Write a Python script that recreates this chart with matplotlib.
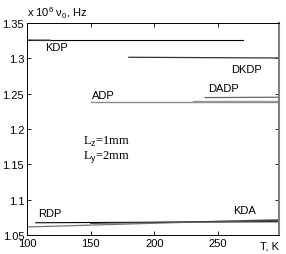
import numpy as np
import matplotlib.pyplot as plt

plt.rcParams['font.family'] = 'Liberation Sans'
plt.rcParams['mathtext.fontset'] = 'custom'
plt.rcParams['mathtext.rm'] = 'Liberation Sans'
plt.rcParams['mathtext.it'] = 'Liberation Sans'

# frequency lines (x 10^6 Hz) vs temperature
kdp_T = [100, 270]
kdp_v = [1.3255, 1.3255]
kdp2_T = [100, 118]
kdp2_v = [1.3265, 1.3262]
dkdp_T = [180, 298]
dkdp_v = [1.3015, 1.3005]
adp_T = [150, 298]
adp_v = [1.2385, 1.2385]
adp2_T = [230, 298]
adp2_v = [1.2392, 1.2392]
dadp_T = [240, 298]
dadp_v = [1.2445, 1.2450]
rdp_T = [107, 298]
rdp_v = [1.0675, 1.0690]
kda_T = [100, 298]
kda_v = [1.0615, 1.0720]
kda2_T = [150, 298]
kda2_v = [1.0665, 1.0710]

labels = ['KDP', 'DKDP', 'ADP', 'DADP', 'RDP', 'KDA']
lab_x = [123, 272, 160, 254, 118, 271]
lab_y = [1.316, 1.285, 1.2485, 1.258, 1.081, 1.0855]

fig = plt.figure(figsize=(2.86, 2.55), dpi=100)
ax = fig.add_axes([0.094, 0.074, 0.882, 0.832])

ax.plot(kdp_T, kdp_v, color='black', lw=0.8)
ax.plot(kdp2_T, kdp2_v, color='0.55', lw=0.9)
ax.plot(dkdp_T, dkdp_v, color='0.2', lw=0.9)
ax.plot(adp_T, adp_v, color='0.55', lw=1.0)
ax.plot(adp2_T, adp2_v, color='0.6', lw=1.0)
ax.plot(dadp_T, dadp_v, color='0.4', lw=0.9)
ax.plot(rdp_T, rdp_v, color='black', lw=0.8)
ax.plot(kda_T, kda_v, color='0.45', lw=0.9)
ax.plot(kda2_T, kda2_v, color='0.25', lw=0.7)

for s, x, y in zip(labels, lab_x, lab_y):
    ax.text(x, y, s, fontsize=8, ha='center', va='center')

ax.text(144, 1.183, r'L$_z$=1mm', fontsize=9, family='Liberation Serif', va='center')
ax.text(144, 1.162, r'L$_y$=2mm', fontsize=9, family='Liberation Serif', va='center')

ax.set_xlim(100, 298)
ax.set_ylim(1.05, 1.35)
ax.set_xticks([100, 150, 200, 250])
ax.set_yticks([1.05, 1.1, 1.15, 1.2, 1.25, 1.3, 1.35])
ax.set_yticklabels(['1.05', '1.1', '1.15', '1.2', '1.25', '1.3', '1.35'])
ax.tick_params(direction='in', labelsize=8, top=True, right=True, length=3, width=0.6, pad=2)
for sp in ax.spines.values():
    sp.set_linewidth(0.7)
ax.spines['right'].set_color('0.5')
ax.spines['right'].set_linewidth(1.5)

ax.text(1.0, -0.025, 'T, K', transform=ax.transAxes, fontsize=8, ha='right', va='top')
ax.text(0.0, 1.015, r'x 10$^6$ $\nu_0$, Hz', transform=ax.transAxes, fontsize=8, ha='left', va='bottom')

fig.savefig('out.png', dpi=100)
